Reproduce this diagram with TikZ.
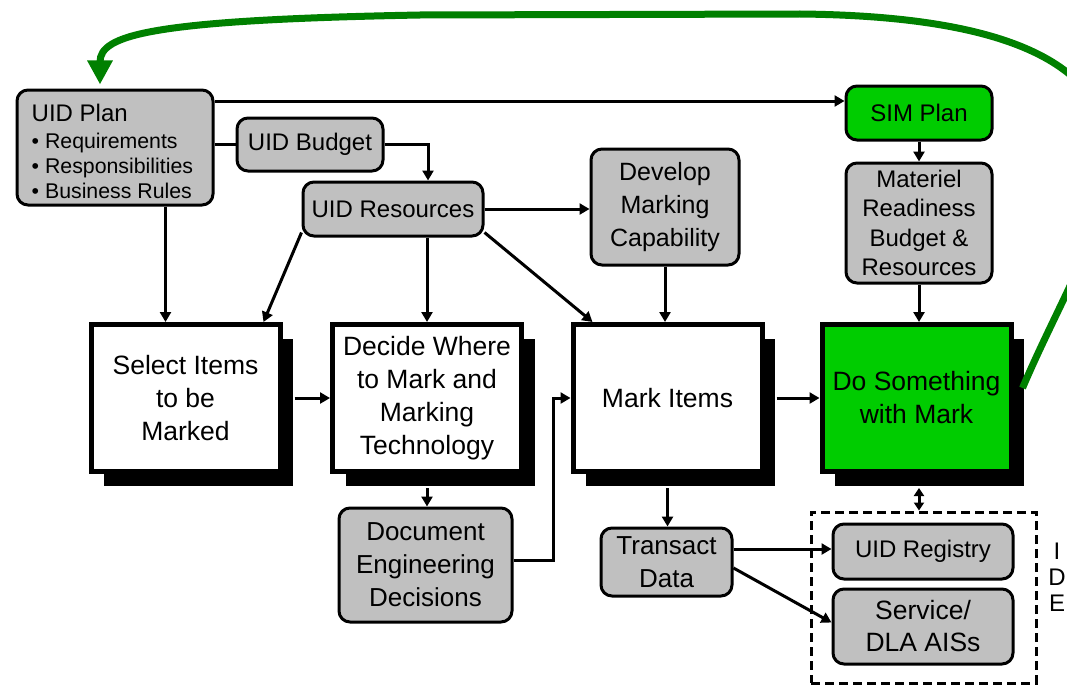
\documentclass[tikz,border=0pt]{standalone}
\usepackage{fontspec}
\setmainfont{Liberation Sans}
\usetikzlibrary{arrows.meta,shadows,calc}
\definecolor{boxgray}{HTML}{C0C0C0}
\definecolor{boxgreen}{HTML}{00CC00}
\definecolor{curvegreen}{HTML}{008000}
\newcommand\fsz[2]{\fontsize{#1}{#2}\selectfont}
\tikzset{
  gbox/.style={draw, line width=3pt, rounded corners=11pt, fill=boxgray, align=center, inner sep=0pt, font=\fsz{24}{33}},
  mbox/.style={draw, line width=5pt, fill=white, align=center, inner sep=0pt, font=\fsz{26.5}{33},
     minimum width=189pt, minimum height=147pt,
     drop shadow={shadow xshift=13pt, shadow yshift=-14pt, opacity=1, fill=black}},
  arr/.style={line width=3pt, -{Triangle[length=10pt,width=11pt]}},
  plainline/.style={line width=3pt},
}
\begin{document}
\begin{tikzpicture}[x=1pt,y=-1pt]
\useasboundingbox (0,0) rectangle (1067,685);
% gray / green rounded boxes
\node[gbox, minimum width=196pt, minimum height=115pt] (plan) at (115,147.5) {};
\node[anchor=north west, align=left, inner sep=0pt, font=\fsz{21.3}{25}] (plantxt) at ([xshift=16pt,yshift=-15pt]plan.north west)
  {{\fsz{24}{25}UID Plan}\\[2pt]• Requirements\\• Responsibilities\\• Business Rules};
\node[gbox, minimum width=146pt, minimum height=53pt] (budget) at (310,144.5) {UID Budget};
\node[gbox, minimum width=180pt, minimum height=54pt] (res) at (393,209) {UID Resources};
\node[gbox, minimum width=148pt, minimum height=116pt, font=\fsz{25}{33}] (dev) at (665,207) {Develop\\Marking\\Capability};
\node[gbox, fill=boxgreen, minimum width=146pt, minimum height=54pt] (sim) at (919,113) {SIM Plan};
\node[gbox, minimum width=146pt, minimum height=120pt, font=\fsz{24}{29.5}] (mat) at (919,223) {Materiel\\Readiness\\Budget \&\\Resources};
\node[gbox, minimum width=173pt, minimum height=114pt, font=\fsz{26}{33}] (doc) at (425.5,565) {Document\\Engineering\\Decisions};
\node[gbox, minimum width=131pt, minimum height=68pt, font=\fsz{26}{33}] (tr) at (666.5,562) {Transact\\Data};
% main boxes
\node[mbox] (sel) at (185.5,398) {Select Items\\to be\\Marked};
\node[mbox] (dec) at (427,398) {Decide Where\\to Mark and\\Marking\\Technology};
\node[mbox] (mark) at (667.5,398) {Mark Items};
\node[mbox, fill=boxgreen] (do) at (916.5,398) {Do Something\\with Mark};
% IDE group
\node[draw, line width=3pt, dash pattern=on 9pt off 5pt, minimum width=225pt, minimum height=171pt, inner sep=0pt] (ide) at (923.5,597.5) {};
\node[gbox, minimum width=180pt, minimum height=55pt] (reg) at (923,551.5) {UID Registry};
\node[gbox, minimum width=180pt, minimum height=75pt, font=\fsz{26.5}{32}] (svc) at (923,626.5) {Service/\\DLA AISs};
\node[font=\fsz{24}{26}, align=center, inner sep=0pt] (idelbl) at (1057,577) {I\\D\\E};
% connectors
\coordinate (simin) at ([yshift=12pt]sim.west);
\draw[arr] (plan.east |- simin) -- (simin);
\draw[plainline] (plan.east |- budget.west) -- (budget.west);
\draw[arr] (budget.east) -| ([xshift=35pt]res.north);
\coordinate (selin1) at ([xshift=-20pt]sel.north);
\draw[arr] (plan.south -| selin1) -- (selin1);
\draw[arr] ([yshift=5pt]res.south west) -- ([xshift=78pt]sel.north);
\draw[arr] (dec.north |- res.south) -- (dec.north);
\draw[arr] ([yshift=5pt]res.south east) -- ([xshift=-75pt]mark.north);
\draw[arr] (res.east) -- (res.east -| dev.west);
\draw[arr] (dev.south) -- (dev.south |- mark.north);
\draw[arr] ([xshift=12pt]sel.east) -- (dec.west);
\draw[arr] ([yshift=-14pt]dec.south) -- (dec.south |- doc.north);
\draw[arr] ([yshift=5pt]doc.east) -| ($(mark.west)+(-17,0)$) -- (mark.west);
\draw[arr] ([xshift=12pt]mark.east) -- (do.west);
\draw[arr] ([yshift=-14pt]mark.south) -- (mark.south |- tr.north);
\draw[arr] (sim.south) -- (mat.north);
\draw[arr] (mat.south) -- (mat.south |- do.north);
\draw[line width=3pt, {Triangle[length=8pt,width=10pt]}-{Triangle[length=8pt,width=10pt]}] ($(do.south -| sim.south)+(0,14)$) -- (ide.north -| sim.south);
\coordinate (trout) at ([yshift=13pt]tr.east);
\draw[arr] (trout) -- (reg.west |- trout);
\draw[arr] ([yshift=-6pt]tr.east) -- ([yshift=4pt]svc.west);
% green feedback curve
\coordinate (planin) at ([xshift=-15pt,yshift=4pt]plan.north);
\begin{scope}
\clip (0,0) rectangle (1067,685);
\draw[curvegreen, line width=7pt, -{Triangle[length=24pt,width=24pt]}]
  ($(do.east)+(9,-10)$) .. controls (1060,300) and (1110,220) .. (1110,160)
  .. controls (1110,60) and (1000,16) .. (800,14)
  -- (420,15) .. controls (150,20) and (100,35) .. (planin);
\end{scope}
\end{tikzpicture}
\end{document}
